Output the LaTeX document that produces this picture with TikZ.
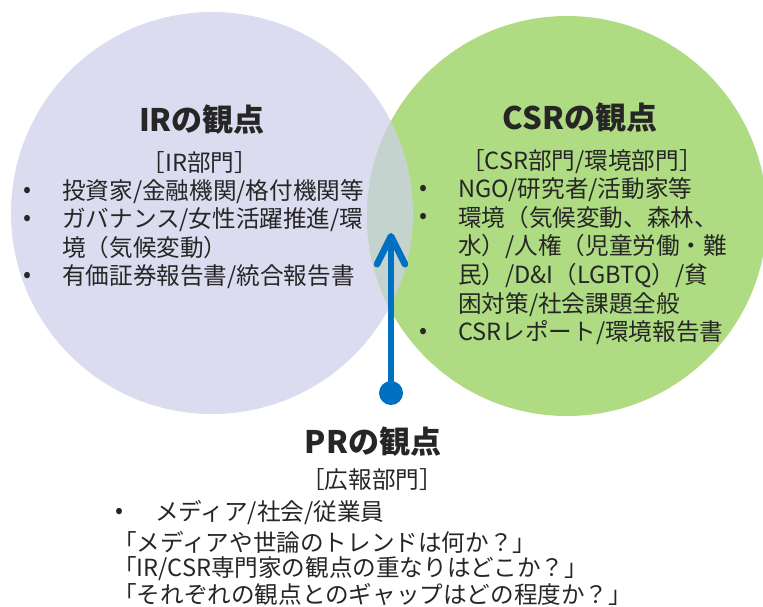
\documentclass[tikz,border=0pt]{standalone}
\usepackage{fontspec}
\setmainfont{Noto Sans CJK JP}
\usetikzlibrary{arrows.meta,positioning}
\definecolor{irlav}{RGB}{220,220,240}
\definecolor{csrgreen}{RGB}{175,220,130}
\definecolor{overlapgray}{RGB}{197,211,207}
\definecolor{prblue}{RGB}{0,112,192}
\definecolor{txtgray}{RGB}{38,38,38}
\tikzset{
	viewcircle/.style={circle,inner sep=0pt,minimum size=#1},
	viewtitle/.style={font=\fontsize{31}{36}\selectfont\bfseries,text=txtgray,inner sep=0pt},
	depttext/.style={font=\fontsize{23.6}{28}\selectfont,text=txtgray,inner sep=0pt},
	itemtext/.style={font=\fontsize{23.6}{28}\selectfont,text=txtgray,inner sep=0pt,anchor=west},
	bulletdot/.style={font=\fontsize{23.6}{28}\selectfont,text=txtgray,inner sep=0pt},
	prdot/.style={circle,fill=prblue,inner sep=0pt,minimum size=24pt}
}
\begin{document}
\begin{tikzpicture}[x=1pt,y=-1pt]
		\useasboundingbox (0,0) rectangle (763,606);
		% the two circles and their overlap
		\node[viewcircle=402pt,fill=irlav] (ircirc) at (212,213) {};
		\node[viewcircle=400pt,fill=csrgreen] (csrcirc) at (567,216) {};
		\begin{scope}
			\clip (ircirc.center) circle (201pt);
			\fill[overlapgray] (csrcirc.center) circle (200pt);
		\end{scope}
		% IR
		\node[viewtitle] (irtitle) at (202,120) {IRの観点};
		\node[depttext] (irdept) at (200,163) {［IR部門］};
		\foreach \y/\t [count=\i] in {192/{投資家/金融機関/格付機関等},220/{ガバナンス/女性活躍推進/環},248/{境（気候変動）},277/{有価証券報告書/統合報告書}}
		\node[itemtext] (irline\i) at (62,\y) {\t};
		\foreach \y [count=\i] in {192,220,277}
		\node[bulletdot] (irbul\i) at (28,\y) {•};
		% CSR
		\node[viewtitle] (csrtitle) at (580,118) {CSRの観点};
		\node[depttext] (csrdept) at (582,162) {［CSR部門/環境部門］};
		\foreach \y/\t [count=\i] in {190/{NGO/研究者/活動家等},218/{環境（気候変動、森林、},247/{水）/人権（児童労働・難},276/{民）/D\&I（LGBTQ）/貧},305/{困対策/社会課題全般},333/{CSRレポート/環境報告書}}
		\node[itemtext] (csrline\i) at (458,\y) {\t};
		\foreach \y [count=\i] in {190,218,333}
		\node[bulletdot] (csrbul\i) at (424,\y) {•};
		% PR
		\node[viewtitle] (prtitle) at (373,442) {PRの観点};
		\node[depttext] (prdept) at (372,480) {［広報部門］};
		\node[bulletdot] (prbul) at (120,513) {•};
		\node[itemtext] (prline1) at (155,513) {メディア/社会/従業員};
		\foreach \y/\t [count=\i from 2] in {542/{「メディアや世論のトレンドは何か？」},569/{「IR/CSR専門家の観点の重なりはどこか？」},594/{「それぞれの観点とのギャップはどの程度か？」}}
		\node[itemtext] (prline\i) at (113,\y) {\t};
		% arrow
		\node[prdot] (prfoot) at (391,393) {};
		\coordinate (prtip) at (391,233);
		\draw[prblue,line width=6.5pt,-{Straight Barb[length=28pt,width=28pt,line cap=round,line join=round]}] (prfoot.center) -- (prtip);
\end{tikzpicture}
\end{document}
